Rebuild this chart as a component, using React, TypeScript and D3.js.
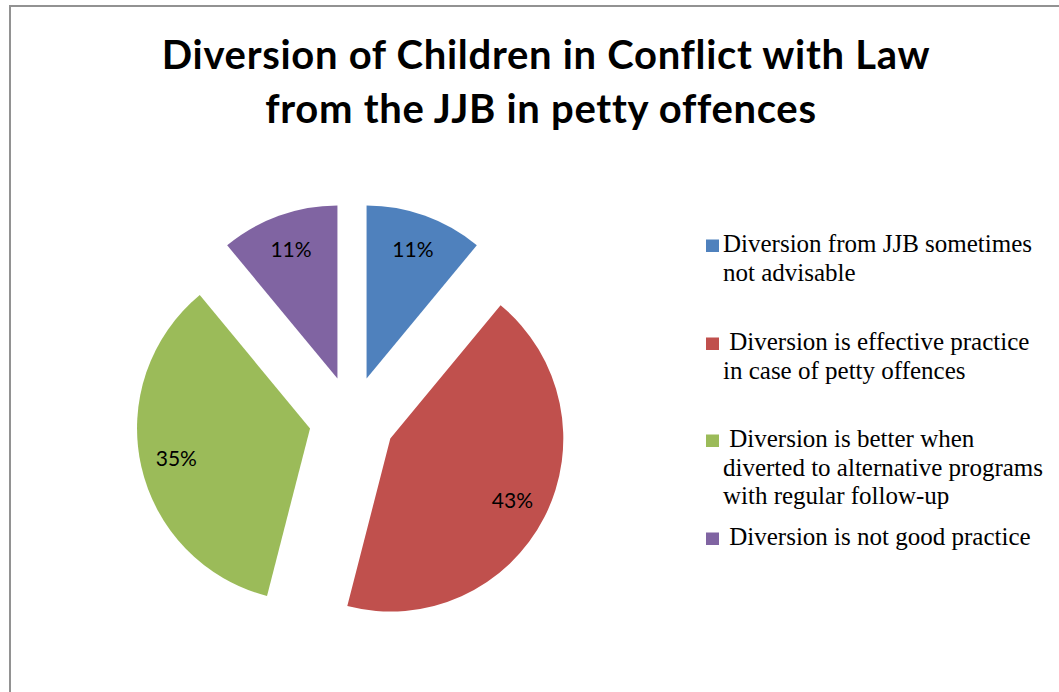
import React from "react";
import * as d3 from "d3";

const categories = [
  "Diversion from JJB sometimes not advisable",
  " Diversion is effective practice in case of petty offences",
  " Diversion is better when diverted to alternative programs with regular follow-up",
  " Diversion is not good practice",
];
const values = [11, 43, 35, 11];
const labels = ["11%", "43%", "35%", "11%"];
const legendLines = [
  ["Diversion from JJB sometimes", "not advisable"],
  [" Diversion is effective practice", "in case of petty offences"],
  [" Diversion is better when", "diverted to alternative programs", "with regular follow-up"],
  [" Diversion is not good practice"],
];
const colors = ["#4F81BD", "#C0504D", "#9BBB59", "#8064A2"];
const titleLines = ["Diversion of Children in Conflict with Law", "from the JJB in petty offences"];

export default function App() {
  const W = 1059, H = 692;
  const cx = 352, cy = 419, R = 173, explode = 43;
  const pie = d3.pie<number>().sort(null).value((d) => d).startAngle(0).endAngle(2 * Math.PI);
  const arcs = pie(values);
  const arc = d3.arc<d3.PieArcDatum<number>>().innerRadius(0).outerRadius(R);
  const labelArc = d3.arc<d3.PieArcDatum<number>>().innerRadius(137).outerRadius(137);

  const legendTop = [252, 350, 447, 545];
  const legendLH = 28.5;
  const titleX = [546, 541];

  return (
    <svg width={W} height={H} style={{ position: "absolute", left: 0, top: 0, background: "#fff" }}>
      <rect x={10} y={6} width={1200} height={900} fill="#fff" stroke="#929292" strokeWidth={2} />
      <g fontFamily="Lato, 'Open Sans', sans-serif" fontWeight="bold" fontSize={40} letterSpacing={0.7} textAnchor="middle" fill="#000">
        {titleLines.map((t, i) => (
          <text key={i} x={titleX[i]} y={69 + i * 54}>{t}</text>
        ))}
      </g>
      <g>
        {arcs.map((a, i) => {
          const mid = (a.startAngle + a.endAngle) / 2;
          const dx = explode * Math.sin(mid);
          const dy = -explode * Math.cos(mid);
          const [lx, ly] = labelArc.centroid(a);
          return (
            <g key={i} transform={`translate(${cx + dx},${cy + dy})`}>
              <path d={arc(a) || ""} fill={colors[i]} />
              <text x={lx} y={ly} dy="0.35em" textAnchor="middle" fontFamily="Lato, 'Open Sans', sans-serif" fontSize={21} fill="#000">
                {labels[i]}
              </text>
            </g>
          );
        })}
      </g>
      <g fontFamily="'Liberation Serif', 'Times New Roman', serif" fontSize={25} fill="#000">
        {legendLines.map((lines, i) => (
          <g key={i}>
            <rect x={706} y={legendTop[i] - 12.5} width={13} height={12.5} fill={colors[i]} />
            {lines.map((l, j) => (
              <text key={j} x={723} y={legendTop[i] + j * legendLH} style={{ whiteSpace: "pre" }}>
                {j === 0 && l.startsWith(" ") ? "\u00A0" + l.slice(1) : l}
              </text>
            ))}
          </g>
        ))}
      </g>
    </svg>
  );
}
